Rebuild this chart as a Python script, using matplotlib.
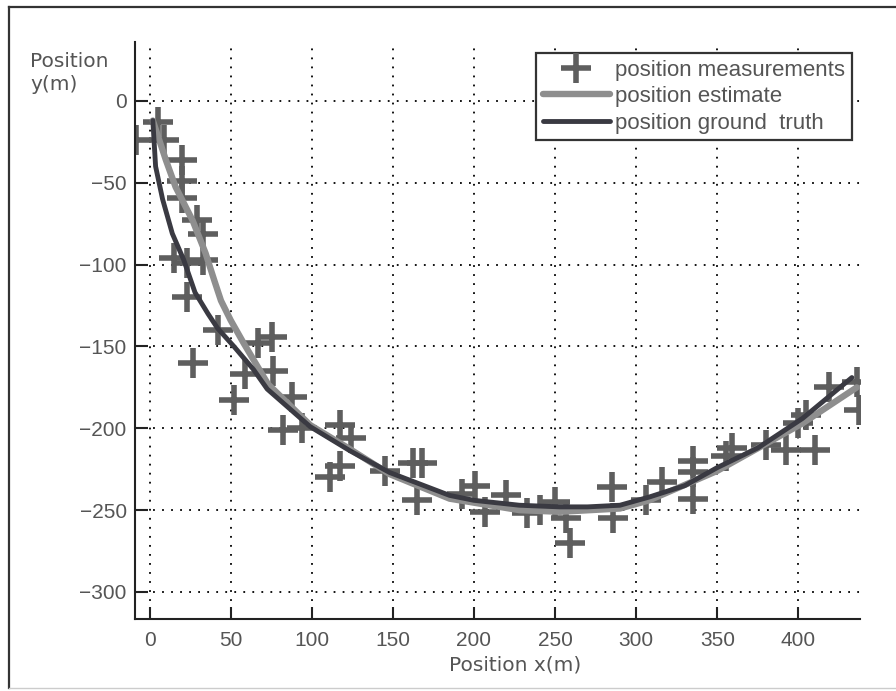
import matplotlib
matplotlib.use("Agg")
import matplotlib.pyplot as plt
from matplotlib.lines import Line2D

meas_x = [-8.6, 5, 9, 20, 20, 20, 29.5, 33, 15, 23, 33, 23, 42, 75.5, 67,
          26.5, 59, 76, 52, 88, 82.5, 94, 117.5, 124, 111, 117.5, 145, 162.5,
          168, 165, 192.5, 200.5, 207, 220, 232.5, 240.5, 250, 257, 259, 285,
          285.5, 306, 316, 335, 335, 335, 359, 355.5, 380, 392.5, 399.5, 405,
          410, 419, 436, 437.5]
meas_y = [-24, -13, -24, -36, -49, -59, -73, -81, -96, -99, -97, -120, -140,
          -144, -148, -160, -167, -165, -183, -181, -201, -200, -198, -206,
          -230, -223, -226, -221, -221, -244, -240, -235, -251, -241, -252,
          -250, -245, -255, -270, -236, -255, -244, -233, -220, -227, -243,
          -212, -217, -210, -213, -197, -192, -213, -175, -172, -189]

est_x = [2, 10, 16, 26.5, 34.5, 40, 44, 50, 58, 73, 99, 124, 148, 185, 228,
         253, 290, 308, 350, 402.5, 436]
est_y = [-12, -36, -52.5, -73, -93, -110, -122, -134, -148, -173, -198, -213,
         -228, -243, -250, -251, -249, -244, -226, -197, -175]

truth_x = [2, 3.7, 8, 14, 21, 28, 36, 42, 52, 64, 72.5, 99, 124, 148, 185,
           200, 228, 253, 270, 290, 308, 330, 350, 375, 402.5, 433]
truth_y = [-12, -40, -60, -81, -97, -117, -130, -139, -150, -164, -176, -199,
           -214, -227, -241, -244, -247, -248, -248, -247, -242, -235, -224,
           -212, -194, -169]

x_ticks = [0, 50, 100, 150, 200, 250, 300, 350, 400]
y_ticks = [0, -50, -100, -150, -200, -250, -300]

W, H = 896, 691
fig = plt.figure(figsize=(W / 100, H / 100), dpi=100)
ax = fig.add_axes([135 / W, 1 - 619 / H, (860 - 135) / W, (619 - 42) / H])

ax.plot(meas_x, meas_y, linestyle="none", marker="+", markersize=21,
        markeredgewidth=4, color="#5e5e5e", label="position measurements")
ax.plot(est_x, est_y, color="#8e8e8e", lw=4.6, solid_capstyle="round",
        label="position estimate")
ax.plot(truth_x, truth_y, color="#3a3a42", lw=3.5, solid_capstyle="round",
        label="position ground  truth")

ax.set_xlim(-9, 438)
ax.set_ylim(-316.5, 36)
ax.set_xticks(x_ticks)
ax.set_yticks(y_ticks)
ax.set_yticklabels(["\u2212" + str(-v) if v < 0 else str(v) for v in y_ticks])

ax.grid(True, color="black", lw=1.3, linestyle=(0, (1, 4)))
ax.set_axisbelow(True)
for side in ["top", "right"]:
    ax.spines[side].set_visible(False)
for side in ["left", "bottom"]:
    ax.spines[side].set_linewidth(1.5)
    ax.spines[side].set_color("#222222")
ax.tick_params(direction="in", length=9, width=1.5, color="#222222",
               labelsize=15, labelcolor="#555555")
ax.tick_params(axis="x", pad=9)
ax.tick_params(axis="y", pad=6)
for lab in ax.get_xticklabels() + ax.get_yticklabels():
    lab.set_fontfamily("Liberation Sans")

leg = ax.legend(loc="upper right", bbox_to_anchor=(852 / W, 1 - 53 / H),
                bbox_transform=fig.transFigure, borderaxespad=0,
                fancybox=False, framealpha=1, edgecolor="#333333",
                handlelength=3.0, handletextpad=0.25, labelspacing=0.25,
                borderpad=0.3, prop={"family": "Liberation Sans", "size": 16})
leg.get_frame().set_linewidth(1.6)
for t in leg.get_texts():
    t.set_color("#555555")

fig.text(30 / W, 1 - 52 / H, "Position\ny(m)", ha="left", va="top",
         fontsize=14.5, color="#555555", family="DejaVu Sans", linespacing=1.25)
fig.text(515 / W, 1 - 665 / H, "Position x(m)", ha="center", va="center",
         fontsize=14.5, color="#555555", family="DejaVu Sans")

# outer frame of the picture
fig.add_artist(Line2D([9 / W, 9 / W], [1 - 7 / H, 1 - 688 / H], color="#333333", lw=1.6))
fig.add_artist(Line2D([9 / W, 1.0], [1 - 7 / H, 1 - 7 / H], color="#333333", lw=1.6))
fig.add_artist(Line2D([9 / W, 1.0], [1 - 688 / H, 1 - 688 / H], color="#cccccc", lw=1.0))

fig.savefig("out.png", dpi=100)
